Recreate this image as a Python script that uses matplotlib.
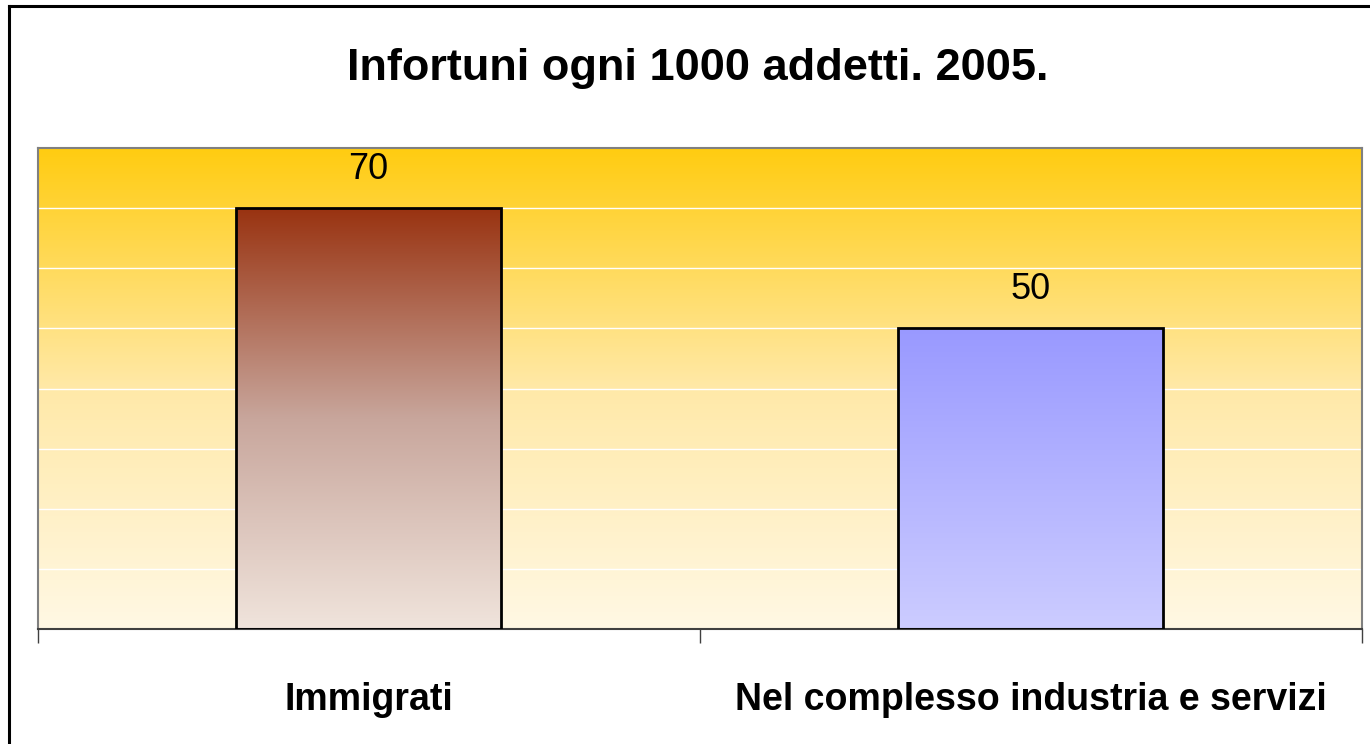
import numpy as np
import matplotlib
matplotlib.use("Agg")
import matplotlib.pyplot as plt
from matplotlib.colors import LinearSegmentedColormap
from matplotlib.lines import Line2D

plt.rcParams["font.family"] = ["Liberation Sans", "DejaVu Sans"]

# ---------------------------------------------------------------------------
# Data
# ---------------------------------------------------------------------------
categories = ["Immigrati", "Nel complesso industria e servizi"]
values = [70, 50]
title = "Infortuni ogni 1000 addetti. 2005."

Y_MAX = 80
Y_STEP = 10

# gradients, listed bottom -> top
bg_colors = ["#FFF8E4", "#FFE9A8", "#FFCC11"]
bar_colors = [
    ["#F0E4DC", "#C8A69C", "#993311"],
    ["#CCCCFF", "#B3B3FF", "#9999FF"],
]

W, H = 1370, 744
fig = plt.figure(figsize=(W / 100, H / 100), dpi=100)
fig.patch.set_facecolor("white")

ax = fig.add_axes([37.5 / W, 1 - 629 / H, (1362 - 37.5) / W, (629 - 148) / H])
ax.set_xlim(-0.5, len(categories) - 0.5)
ax.set_ylim(0, Y_MAX)

# plot-area gradient background
grad = np.linspace(0, 1, 256).reshape(-1, 1)
bg_cmap = LinearSegmentedColormap.from_list("bg", bg_colors)
ax.imshow(grad, cmap=bg_cmap, aspect="auto", origin="lower",
          extent=[-0.5, len(categories) - 0.5, 0, Y_MAX], zorder=0)

# white gridlines
for y in np.arange(Y_STEP, Y_MAX, Y_STEP):
    ax.axhline(y, color="white", lw=1.0, zorder=1)

# bars with vertical gradients
x = np.arange(len(categories))
bars = ax.bar(x, values, width=0.40, facecolor="none",
              edgecolor="black", linewidth=2.0, zorder=3)
for bar, cols in zip(bars, bar_colors):
    cmap = LinearSegmentedColormap.from_list("b", cols)
    x0, w, h = bar.get_x(), bar.get_width(), bar.get_height()
    im = ax.imshow(grad, cmap=cmap, aspect="auto", origin="lower",
                   extent=[x0, x0 + w, 0, h], zorder=2)
    im.set_clip_path(bar)

# value labels
for xi, v in zip(x, values):
    ax.annotate(f"{v}", (xi, v), xytext=(0, 21), textcoords="offset points",
                ha="center", va="baseline", fontsize=26, color="black")

# axes styling
for side in ["left", "top", "right"]:
    ax.spines[side].set_color("#808080")
    ax.spines[side].set_linewidth(1.5)
ax.spines["bottom"].set_color("#404040")
ax.spines["bottom"].set_linewidth(1.5)
ax.set_yticks([])
ax.set_xticks(x)
ax.set_xticklabels(categories, fontsize=27, fontweight="bold")
ax.tick_params(axis="x", which="major", length=0, pad=38)
ax.set_xticks(np.arange(-0.5, len(categories)), minor=True)
ax.tick_params(axis="x", which="minor", length=10, width=1, color="#404040")
ax.set_xlim(-0.5, len(categories) - 0.5)
ax.set_ylim(0, Y_MAX)

fig.text(698 / W, 1 - 80 / H, title, ha="center", va="baseline",
         fontsize=32.5, fontweight="bold")

# outer frame (left and top edges visible)
fig.add_artist(Line2D([9 / W, 9 / W], [0, 1 - 6 / H], color="black", lw=2.2))
fig.add_artist(Line2D([9 / W, 1], [1 - 6 / H, 1 - 6 / H], color="black", lw=2.2))

fig.savefig("out.png", dpi=100)
